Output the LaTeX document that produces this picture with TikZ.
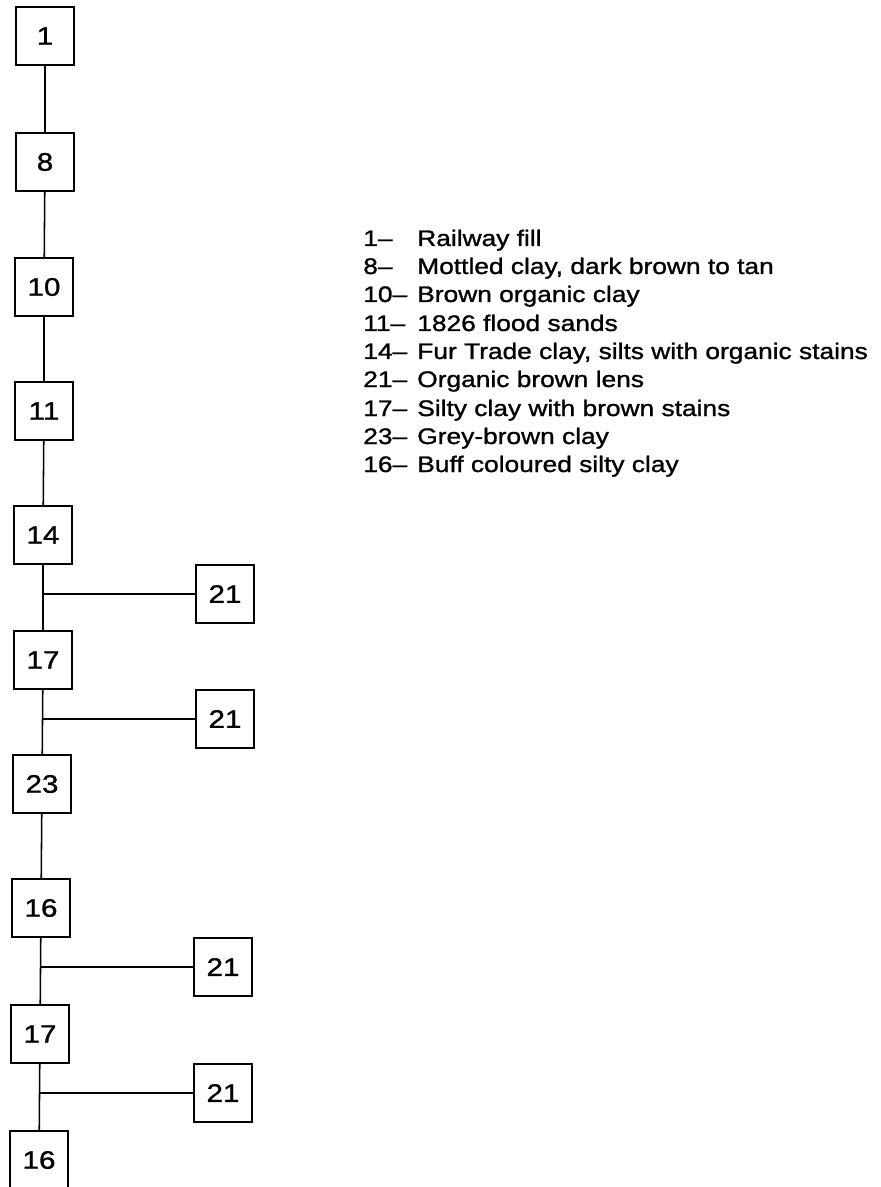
\documentclass[tikz,border=0pt]{standalone}
\usepackage{fontspec}
\setmainfont[FakeStretch=1.17,FakeBold=1.2]{Liberation Sans}

\begin{document}
\begin{tikzpicture}[x=0.025cm,y=-0.025cm,
    layer/.style={draw,line width=1.1pt,minimum size=1.45cm,inner sep=0pt,
        font=\fontsize{18}{21}\selectfont},
    key/.style={anchor=base west,inner sep=0pt,font=\fontsize{16}{19}\selectfont}]
    \useasboundingbox (0,0) rectangle (880,1187);
    % column of layers
    \node [layer] (b1)  at (45,36)   {1};
    \node [layer] (b8)  at (45,162)  {8};
    \node [layer] (b10) at (44,287)  {10};
    \node [layer] (b11) at (44,411)  {11};
    \node [layer] (b14) at (43,535)  {14};
    \node [layer] (b17) at (43,660)  {17};
    \node [layer] (b23) at (42,784)  {23};
    \node [layer] (b16) at (41,908)  {16};
    \node [layer] (b17b) at (40,1034) {17};
    \node [layer] (b16b) at (39,1160) {16};
    % lenses
    \node [layer] (r1) at (225,594)  {21};
    \node [layer] (r2) at (225,719)  {21};
    \node [layer] (r3) at (223,967)  {21};
    \node [layer] (r4) at (223,1093) {21};
    \draw [line width=1.1pt] (b1) -- (b8) -- (b10) -- (b11) -- (b14) -- (b17)
        -- (b23) -- (b16) -- (b17b) -- (b16b);
    \draw [line width=0.8pt] (b14 |- r1) -- (r1.west);
    \draw [line width=0.8pt] (b17 |- r2) -- (r2.west);
    \draw [line width=0.8pt] (b16 |- r3) -- (r3.west);
    \draw [line width=0.8pt] (b17b |- r4) -- (r4.west);
    % key
    \node [key] (k1n)  at (363,246) {1–};
    \node [key] (k1)   at (417,246) {Railway fill};
    \node [key] (k8n)  at (363,274) {8–};
    \node [key] (k8)   at (417,274) {Mottled clay, dark brown to tan};
    \node [key] (k10n) at (363,302) {10–};
    \node [key] (k10)  at (417,302) {Brown organic clay};
    \node [key] (k11n) at (363,331) {11–};
    \node [key] (k11)  at (417,331) {1826 flood sands};
    \node [key] (k14n) at (363,359) {14–};
    \node [key] (k14)  at (417,359) {Fur Trade clay, silts with organic stains};
    \node [key] (k21n) at (363,387) {21–};
    \node [key] (k21)  at (417,387) {Organic brown lens};
    \node [key] (k17n) at (363,416) {17–};
    \node [key] (k17)  at (417,416) {Silty clay with brown stains};
    \node [key] (k23n) at (363,444) {23–};
    \node [key] (k23)  at (417,444) {Grey-brown clay};
    \node [key] (k16n) at (363,472) {16–};
    \node [key] (k16)  at (417,472) {Buff coloured silty clay};
\end{tikzpicture}
\end{document}
